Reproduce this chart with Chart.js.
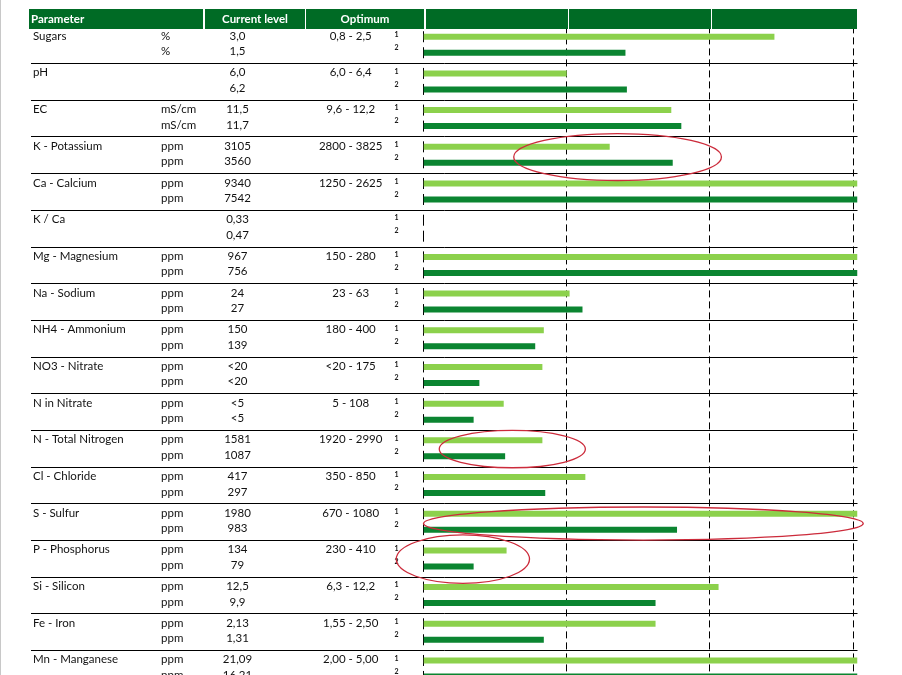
<!DOCTYPE html>
<html>
<head>
<meta charset="utf-8">
<title>Analysis</title>
<script src="https://cdn.jsdelivr.net/npm/chart.js@4.4.1/dist/chart.umd.min.js"></script>
<style>
    html, body { margin: 0; padding: 0; background: #fff; overflow: hidden; }
    #wrap { position: relative; width: 902px; height: 700px; }
    #edge { position: absolute; left: 0; top: 0; width: 1px; height: 100%; background: #c8c8c8; }
</style>
</head>
<body>
<div id="wrap">
    <canvas id="chart"></canvas>
    <div id="edge"></div>
</div>
<script>
const params = ['Sugars', 'pH', 'EC', 'K - Potassium', 'Ca - Calcium', 'K / Ca', 'Mg - Magnesium',
    'Na - Sodium', 'NH4 - Ammonium', 'NO3 - Nitrate', 'N in Nitrate', 'N - Total Nitrogen',
    'Cl - Chloride', 'S - Sulfur', 'P - Phosphorus', 'Si - Silicon', 'Fe - Iron', 'Mn - Manganese'];
const units = ['%', '', 'mS/cm', 'ppm', 'ppm', '', 'ppm', 'ppm', 'ppm', 'ppm', 'ppm', 'ppm',
    'ppm', 'ppm', 'ppm', 'ppm', 'ppm', 'ppm'];
const level1 = ['3,0', '6,0', '11,5', '3105', '9340', '0,33', '967', '24', '150', '<20', '<5',
    '1581', '417', '1980', '134', '12,5', '2,13', '21,09'];
const level2 = ['1,5', '6,2', '11,7', '3560', '7542', '0,47', '756', '27', '139', '<20', '<5',
    '1087', '297', '983', '79', '9,9', '1,31', '16,21'];
const optimum = ['0,8 - 2,5', '6,0 - 6,4', '9,6 - 12,2', '2800 - 3825', '1250 - 2625', '',
    '150 - 280', '23 - 63', '180 - 400', '<20 - 175', '5 - 108', '1920 - 2990', '350 - 850',
    '670 - 1080', '230 - 410', '6,3 - 12,2', '1,55 - 2,50', '2,00 - 5,00'];

// bar length on the 0..3 optimum scale (1 = optimum low, 2 = optimum high), capped at the edge
const score1 = [2.45, 1.00, 1.73, 1.30, 3.03, null, 3.03, 1.02, 0.84, 0.83, 0.56, 0.83, 1.13,
    3.03, 0.58, 2.06, 1.62, 3.03];
const score2 = [1.41, 1.42, 1.80, 1.74, 3.03, null, 3.03, 1.11, 0.78, 0.39, 0.35, 0.57, 0.85,
    1.77, 0.35, 1.62, 0.84, 3.03];
const gridTicks = [1, 2, 3];

// hand drawn red rings: row, left/right on the value scale, height in rows
const ringRows = [3, 11, 13, 14];
const ringFrom = [0.63, 0.11, 0.0, -0.19];
const ringTo = [2.08, 1.13, 3.07, 0.74];
const ringHeight = [1.28, 1.02, 0.9, 1.32];
const ringShift = [0.06, 0.02, 0.05, 0.02];

const FONT = 'Lato, "Open Sans", sans-serif';
const TEXT = '#111';

function barY(chart, ds, i) {
    return chart.getDatasetMeta(ds).data[i].y;
}

const tablePlugin = {
    id: 'table',
    beforeDatasetsDraw(chart) {
        const {ctx, chartArea, scales: {x, y}} = chart;
        const half = (y.getPixelForValue(1) - y.getPixelForValue(0)) / 2;
        ctx.save();
        // row separators
        ctx.strokeStyle = '#000';
        ctx.lineWidth = 1;
        ctx.beginPath();
        for (let i = 1; i < params.length; i++) {
            const yy = Math.round(y.getPixelForValue(i) - half) + 0.5;
            ctx.moveTo(31, yy);
            ctx.lineTo(chartArea.right, yy);
        }
        ctx.stroke();
        // zero line, one tick per bar
        const x0 = Math.round(x.getPixelForValue(0)) - 0.5;
        ctx.beginPath();
        for (let i = 0; i < params.length; i++) {
            for (let d = 0; d < 2; d++) {
                const by = barY(chart, d, i);
                ctx.moveTo(x0, by - 5.5);
                ctx.lineTo(x0, by + 5.5);
            }
        }
        ctx.stroke();
        ctx.restore();
    },
    afterDraw(chart) {
        const {ctx, scales: {x, y}} = chart;
        ctx.save();
        ctx.fillStyle = TEXT;
        ctx.textBaseline = 'alphabetic';
        ctx.font = '11.5px ' + FONT;
        for (let i = 0; i < params.length; i++) {
            const y1 = barY(chart, 0, i) + 3;
            const y2 = barY(chart, 1, i) + 2.5;
            ctx.textAlign = 'left';
            ctx.fillText(params[i], 33, y1);
            ctx.fillText(units[i], 161, y1);
            ctx.fillText(units[i], 161, y2);
            ctx.textAlign = 'center';
            ctx.fillText(level1[i], 237.5, y1);
            ctx.fillText(level2[i], 237.5, y2);
            ctx.fillText(optimum[i], 350.7, y1);
        }
        ctx.font = 'bold 7px ' + FONT;
        ctx.textBaseline = 'middle';
        for (let i = 0; i < params.length; i++) {
            ctx.fillText('1', 396.5, barY(chart, 0, i) - 2);
            ctx.fillText('2', 396.5, barY(chart, 1, i) - 5);
        }

        // header band
        ctx.fillStyle = '#fff';
        ctx.fillRect(0, 0, chart.width, 29);
        const heads = [[29, 203, 'Parameter', 'left'], [205, 305, 'Current level', 'center'],
            [306, 424, 'Optimum', 'center'], [426, 568], [569, 711], [712, 857]];
        ctx.font = 'bold 11.5px ' + FONT;
        for (const [a, b, label, align] of heads) {
            ctx.fillStyle = '#006b25';
            ctx.fillRect(a, 9, b - a, 20);
            if (label) {
                ctx.fillStyle = '#fff';
                ctx.textAlign = align;
                ctx.fillText(label, align === 'left' ? a + 2 : (a + b) / 2, 19.5);
            }
        }

        // red rings
        const rowH = y.getPixelForValue(1) - y.getPixelForValue(0);
        ctx.strokeStyle = '#cc2b3b';
        ctx.lineWidth = 1.3;
        for (let k = 0; k < ringRows.length; k++) {
            const left = x.getPixelForValue(ringFrom[k]);
            const right = x.getPixelForValue(ringTo[k]);
            const cy = y.getPixelForValue(ringRows[k]) + ringShift[k] * rowH;
            ctx.beginPath();
            ctx.ellipse((left + right) / 2, cy, (right - left) / 2, ringHeight[k] * rowH / 2, 0, 0, Math.PI * 2);
            ctx.stroke();
        }
        ctx.restore();
    }
};

const chart = new Chart(document.getElementById('chart'), {
    type: 'bar',
    data: {
        labels: params,
        datasets: [{
            data: score1,
            backgroundColor: '#8cd14c',
            categoryPercentage: 0.872,
            barPercentage: 0.375
        }, {
            data: score2,
            backgroundColor: '#0b8531',
            categoryPercentage: 0.872,
            barPercentage: 0.375
        }]
    },
    options: {
        indexAxis: 'y',
        responsive: true,
        maintainAspectRatio: false,
        animation: false,
        layout: {padding: {left: 423.5, right: 44.5, top: 26.4, bottom: 13.2}},
        plugins: {legend: {display: false}, tooltip: {enabled: false}},
        scales: {
            x: {
                min: 0,
                max: 3.03,
                afterBuildTicks: axis => {
                    axis.ticks = gridTicks.map(v => ({value: v}));
                },
                ticks: {display: false},
                grid: {color: '#000', lineWidth: 1, drawTicks: false},
                border: {display: false, dash: [7, 4]}
            },
            y: {
                display: false
            }
        }
    },
    plugins: [tablePlugin]
});
</script>
</body>
</html>
